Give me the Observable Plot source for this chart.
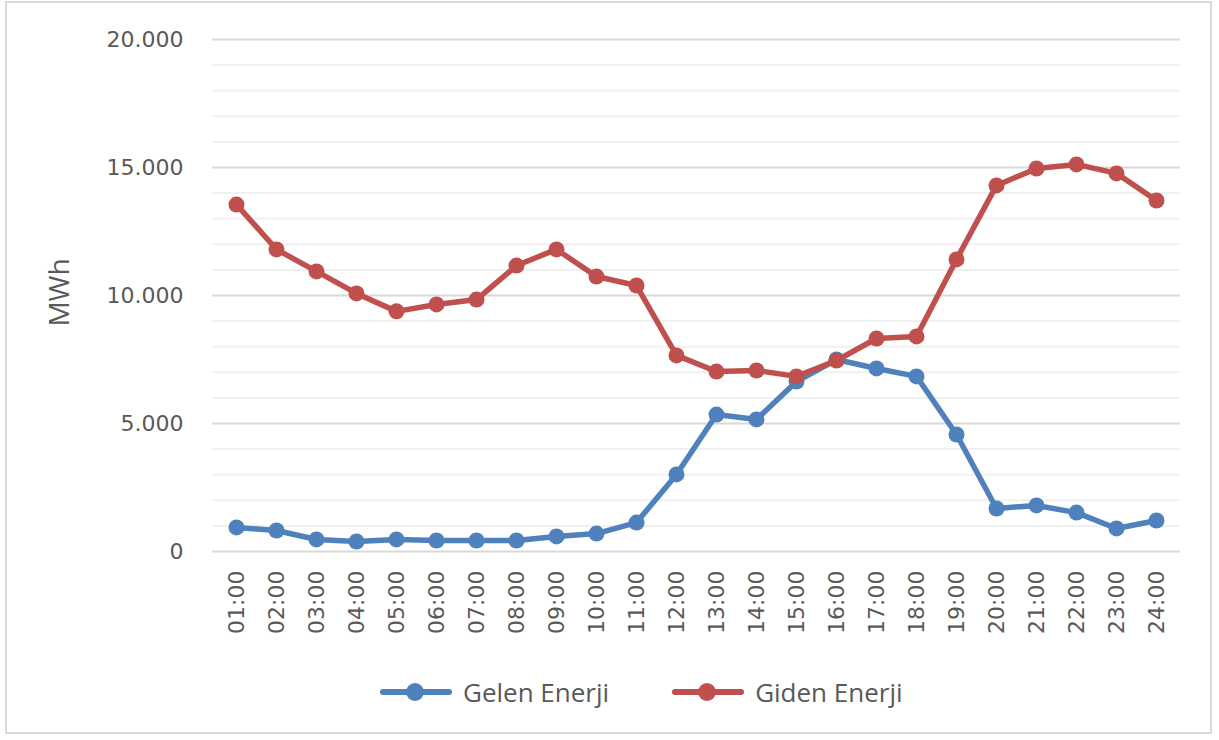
<!DOCTYPE html>
<html>
<head>
<meta charset="utf-8">
<script src="https://cdn.jsdelivr.net/npm/d3@7"></script>
<script src="https://cdn.jsdelivr.net/npm/@observablehq/plot@0.6"></script>
<style>
  html, body { margin: 0; padding: 0; background: #fff; }
  body { width: 1219px; height: 740px; position: relative; overflow: hidden; font-family: "Open Sans", sans-serif; }
  #frame { position: absolute; left: 5px; top: 1px; width: 1207px; height: 733px; border: 2px solid #d9d9d9; box-sizing: border-box; }
  #chart { position: absolute; left: 0; top: 0; }
  #legend { position: absolute; top: 672px; left: 380px; height: 40px; display: flex; align-items: center; font-size: 26px; color: #595959; font-family: "Open Sans", sans-serif; }
  .item { display: flex; align-items: center; margin-right: 63px; }
  .sw { position: relative; width: 72px; height: 32px; margin-right: 11px; }
  .sw .ln { position: absolute; left: 0; right: 0; top: 13px; height: 6px; border-radius: 3px; }
  .sw .dt { position: absolute; left: 26px; top: 7px; width: 18px; height: 18px; border-radius: 50%; }
</style>
</head>
<body>
<div id="frame"></div>
<div id="chart"></div>
<div id="legend"></div>
<script>
const hours = ["01:00","02:00","03:00","04:00","05:00","06:00","07:00","08:00","09:00","10:00","11:00","12:00",
               "13:00","14:00","15:00","16:00","17:00","18:00","19:00","20:00","21:00","22:00","23:00","24:00"];
const gelen = [940, 820, 470, 390, 470, 430, 430, 430, 590, 700, 1130, 3010,
               5350, 5160, 6640, 7500, 7150, 6840, 4570, 1680, 1800, 1520, 900, 1210];
const giden = [13550, 11800, 10940, 10080, 9380, 9650, 9840, 11170, 11800, 10740, 10390, 7660,
               7030, 7070, 6840, 7460, 8320, 8400, 11410, 14300, 14960, 15120, 14770, 13710];
const seriesNames = ["Gelen Enerji", "Giden Enerji"];
const seriesColors = ["#4F81BD", "#C0504D"];
const yTicks = [0, 5000, 10000, 15000, 20000];
const yMinor = [1000, 2000, 3000, 4000, 6000, 7000, 8000, 9000, 11000, 12000, 13000, 14000, 16000, 17000, 18000, 19000];
const yLabel = "MWh";

const trFmt = d3.formatLocale({decimal: ",", thousands: ".", grouping: [3], currency: ["", "₺"]}).format(",");

const data = [];
hours.forEach((h, i) => {
  data.push({hour: h, value: gelen[i], series: seriesNames[0]});
});
hours.forEach((h, i) => {
  data.push({hour: h, value: giden[i], series: seriesNames[1]});
});

const chart = Plot.plot({
  width: 1219,
  height: 650,
  marginTop: 39,
  marginBottom: 99,
  marginLeft: 212,
  marginRight: 39,
  style: {fontFamily: "Open Sans, sans-serif", color: "#595959", background: "transparent"},
  x: {type: "point", domain: hours, padding: 0.5, label: null},
  y: {domain: [0, 20000], label: null},
  color: {domain: seriesNames, range: seriesColors},
  marks: [
    Plot.ruleY(yMinor, {stroke: "#f0f0f0", strokeWidth: 2}),
    Plot.ruleY(yTicks, {stroke: "#d9d9d9", strokeWidth: 2}),
    Plot.axisY({ticks: yTicks, tickFormat: trFmt, tickSize: 0, tickPadding: 29, fontSize: 22, label: null,
                fill: "#595959", fontFamily: "DejaVu Sans", style: {letterSpacing: "1px"}}),
    Plot.axisX({tickRotate: -90, tickSize: 0, tickPadding: 19, fontSize: 22, label: null,
                fill: "#595959", fontFamily: "DejaVu Sans", style: {letterSpacing: "1px"}}),
    Plot.text([yLabel], {frameAnchor: "left", textAnchor: "middle", dx: -152, dy: -3, rotate: -90, fontSize: 28, fill: "#595959"}),
    Plot.line(data, {x: "hour", y: "value", z: "series", stroke: "series", strokeWidth: 5.5, strokeLinejoin: "round", strokeLinecap: "round"}),
    Plot.dot(data, {x: "hour", y: "value", fill: "series", r: 8})
  ]
});
document.getElementById("chart").appendChild(chart);

const legend = document.getElementById("legend");
seriesNames.forEach((name, i) => {
  const item = document.createElement("div");
  item.className = "item";
  item.innerHTML = `<div class="sw"><div class="ln" style="background:${seriesColors[i]}"></div><div class="dt" style="background:${seriesColors[i]}"></div></div><span>${name}</span>`;
  legend.appendChild(item);
});
</script>
</body>
</html>
